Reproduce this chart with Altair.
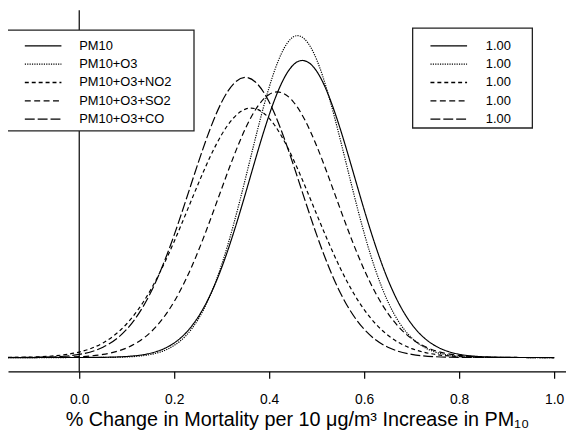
import altair as alt
import pandas as pd

# ---- data (posterior densities) ----
x_vals = [-0.15, -0.10, -0.05, 0.00, 0.05, 0.10, 0.15, 0.20, 0.25, 0.30, 0.35, 0.40,
          0.45, 0.50, 0.55, 0.60, 0.65, 0.70, 0.75, 0.80, 0.85, 0.90, 0.95, 1.00]
pm10 = [0.0, 0.0, 0.0001, 0.0004, 0.0025, 0.0127, 0.0527, 0.1784, 0.4909, 1.0987, 2.0007, 2.962,
        3.568, 3.495, 2.784, 1.804, 0.9507, 0.4076, 0.1421, 0.0403, 0.0093, 0.0017, 0.0003, 0.0]
pm10_o3 = [0.0, 0.0, 0.0, 0.0001, 0.0011, 0.0073, 0.0371, 0.1478, 0.4621, 1.1346, 2.1847, 3.300,
           3.911, 3.636, 2.653, 1.518, 0.6815, 0.2401, 0.0663, 0.0144, 0.0024, 0.0003, 0.0, 0.0]
pm10_o3_no2 = [0.0015, 0.0061, 0.0217, 0.0669, 0.1786, 0.4121, 0.8218, 1.4175, 2.1126, 2.722, 3.032, 2.920,
               2.430, 1.748, 1.0874, 0.5847, 0.2716, 0.1091, 0.0379, 0.0114, 0.0030, 0.0007, 0.0001, 0.0]
pm10_o3_so2 = [0.0001, 0.0005, 0.0024, 0.0103, 0.0378, 0.1171, 0.3074, 0.6840, 1.290, 2.063, 2.796, 3.212,
               3.128, 2.583, 1.807, 1.072, 0.5393, 0.2299, 0.0831, 0.0254, 0.0066, 0.0015, 0.0003, 0.0]
pm10_o3_co = [0.0004, 0.0020, 0.0096, 0.0381, 0.1256, 0.3447, 0.7874, 1.4969, 2.368, 3.119, 3.419, 3.119,
              2.368, 1.4969, 0.7874, 0.3447, 0.1256, 0.0381, 0.0096, 0.0020, 0.0004, 0.0001, 0.0, 0.0]

models = ["PM10", "PM10+O3", "PM10+O3+NO2", "PM10+O3+SO2", "PM10+O3+CO"]
series = [pm10, pm10_o3, pm10_o3_no2, pm10_o3_so2, pm10_o3_co]
legend_values = ["1.00", "1.00", "1.00", "1.00", "1.00"]
x_ticks = [0.0, 0.2, 0.4, 0.6, 0.8, 1.0]
ref_line_x = [0.0]
x_title = "% Change in Mortality per 10 \u03bcg/m\u00b3 Increase in PM\u2081\u2080"

rows = []
for m, ys in zip(models, series):
    for xv, yv in zip(x_vals, ys):
        rows.append({"x": xv, "density": yv, "model": m})
df = pd.DataFrame(rows)

FONT = "Liberation Sans"
dash_range = [[1, 0], [1.2, 1.2], [4, 3], [6, 3.5], [10, 3]]
dash_scale = alt.Scale(domain=models, range=dash_range)
x_scale = alt.Scale(domain=[-0.15, 1.025], nice=False, zero=False)

W, H = 564, 365

curves = alt.Chart(df).mark_line(interpolate="natural", strokeWidth=1.2, color="black").encode(
    x=alt.X("x:Q",
            scale=x_scale,
            axis=alt.Axis(values=x_ticks, format=".1f", grid=False,
                          domainColor="black", domainWidth=1.2,
                          tickColor="black", tickWidth=1.2, tickSize=7,
                          labelFont=FONT, labelFontSize=14, labelColor="black",
                          labelPadding=14, labelFlush=False,
                          title=x_title, titleFont=FONT, titleFontSize=20,
                          titleFontWeight="normal", titleColor="black",
                          titleX=292, titleY=55, titleAlign="center",
                          titleBaseline="alphabetic")),
    y=alt.Y("density:Q", scale=alt.Scale(domain=[-0.169, 4.239], nice=False, zero=False),
            axis=None),
    strokeDash=alt.StrokeDash("model:N", scale=dash_scale, legend=None),
)

vline = alt.Chart(pd.DataFrame({"x": ref_line_x})).mark_rule(color="black", strokeWidth=1.2).encode(
    x=alt.X("x:Q"),
    y=alt.value(0),
    y2=alt.value(H),
)

main = alt.layer(curves, vline)

# ---- hand-drawn legend boxes (layout in pixels) ----
boxes = pd.DataFrame({"x0": [-1, 409], "x1": [188, 530], "y0": [20, 18], "y1": [122, 119]})
box_layer = alt.Chart(boxes).mark_rect(fill="white", stroke="#222", strokeWidth=1.3).encode(
    x=alt.X("x0:Q", scale=None, axis=None), x2="x1:Q",
    y=alt.Y("y0:Q", scale=None, axis=None), y2="y1:Q",
)

row_y = [36, 54.5, 73, 91.5, 110]
leg_rows = []
for i, m in enumerate(models):
    leg_rows.append({"model": m, "lx0": 17, "lx1": 54, "tx": 72, "y": row_y[i], "label": m})
    leg_rows.append({"model": m, "lx0": 427, "lx1": 464, "tx": 483, "y": row_y[i], "label": legend_values[i]})
leg_df = pd.DataFrame(leg_rows)

leg_lines = alt.Chart(leg_df).mark_rule(color="black", strokeWidth=1.3).encode(
    x=alt.X("lx0:Q", scale=None, axis=None), x2="lx1:Q",
    y=alt.Y("y:Q", scale=None, axis=None),
    strokeDash=alt.StrokeDash("model:N", scale=dash_scale, legend=None),
)
leg_text = alt.Chart(leg_df).mark_text(align="left", baseline="middle", font=FONT,
                                       fontSize=13, color="black").encode(
    x=alt.X("tx:Q", scale=None, axis=None),
    y=alt.Y("y:Q", scale=None, axis=None),
    text="label:N",
)

legend = alt.layer(box_layer, leg_lines, leg_text)

chart = alt.layer(main, legend).resolve_scale(
    x="independent", y="independent"
).properties(
    width=W, height=H,
    autosize=alt.AutoSizeParams(type="none"),
    padding={"left": 0, "top": 0, "right": 0, "bottom": 60},
    background="white",
).configure_view(stroke=None)

chart.save("out.html", embed_options={"renderer": "svg", "actions": False})
